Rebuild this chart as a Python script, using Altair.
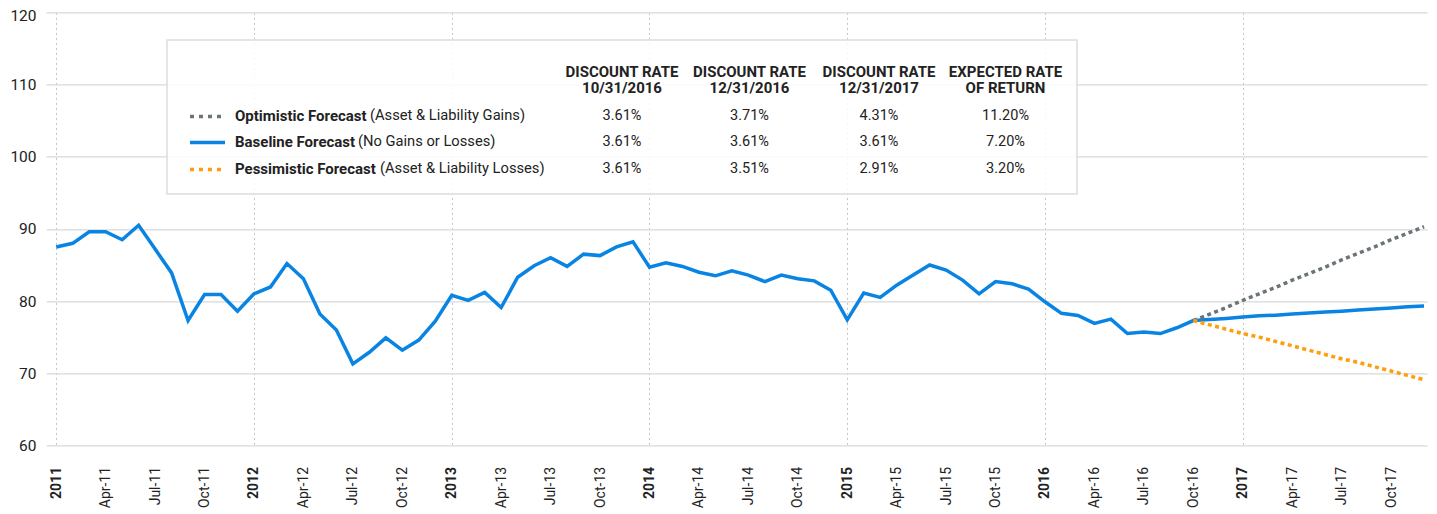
import json
import pandas as pd
import altair as alt

# ---------------- data ----------------
# monthly index values, Jan-2011 .. Oct-2016
history = [87.5, 88.0, 89.6, 89.6, 88.5, 90.5, 87.2, 83.9, 77.3, 80.9, 80.9, 78.6,
           81.0, 81.95, 85.2, 83.1, 78.2, 76.0, 71.3, 72.9, 74.9, 73.2, 74.6, 77.2,
           80.8, 80.1, 81.2, 79.1, 83.3, 84.9, 86.0, 84.8, 86.5, 86.3, 87.5, 88.2,
           84.7, 85.3, 84.8, 84.0, 83.5, 84.2, 83.6, 82.7, 83.6, 83.1, 82.8, 81.5,
           77.4, 81.1, 80.5, 82.2, 83.6, 85.0, 84.3, 82.9, 81.0, 82.7, 82.4, 81.65,
           79.9, 78.3, 78.0, 76.9, 77.5, 75.5, 75.7, 75.5, 76.3, 77.3]
# baseline forecast, Nov-2016 .. Dec-2017
baseline_fc = [77.45, 77.6, 77.8, 77.95, 78.05, 78.2, 78.35, 78.5, 78.6, 78.75,
               78.9, 79.05, 79.2, 79.3]
# dotted forecasts, Oct-2016 .. Dec-2017
optimistic_fc = [77.3, 78.2, 79.1, 80.1, 81.0, 81.9, 82.9, 83.8, 84.7, 85.7,
                 86.6, 87.5, 88.5, 89.4, 90.3]
pessimistic_fc = [77.3, 76.7, 76.1, 75.5, 75.0, 74.4, 73.8, 73.2, 72.6, 72.0,
                  71.5, 70.9, 70.3, 69.7, 69.1]

tick_labels = ["2011", "Apr-11", "Jul-11", "Oct-11", "2012", "Apr-12", "Jul-12", "Oct-12",
               "2013", "Apr-13", "Jul-13", "Oct-13", "2014", "Apr-14", "Jul-14", "Oct-14",
               "2015", "Apr-15", "Jul-15", "Oct-15", "2016", "Apr-16", "Jul-16", "Oct-16",
               "2017", "Apr-17", "Jul-17", "Oct-17"]
y_ticks = [60, 70, 80, 90, 100, 110, 120]

scenarios = ["Optimistic Forecast", "Baseline Forecast", "Pessimistic Forecast"]
notes = ["(Asset & Liability Gains)", "(No Gains or Losses)", "(Asset & Liability Losses)"]
headers_top = ["DISCOUNT RATE", "DISCOUNT RATE", "DISCOUNT RATE", "EXPECTED RATE"]
headers_bottom = ["10/31/2016", "12/31/2016", "12/31/2017", "OF RETURN"]
rates = [["3.61%", "3.71%", "4.31%", "11.20%"],
         ["3.61%", "3.61%", "3.61%", "7.20%"],
         ["3.61%", "3.51%", "2.91%", "3.20%"]]

# ---------------- styles ----------------
FONT = "Roboto"
BLUE = "#0a84e3"
GRAY = "#6b7479"
ORANGE = "#ff9d0a"
TXT = "#222222"

W, H = 1381, 433
n_hist = len(history)
start_fc = n_hist - 1

base_vals = history + baseline_fc
base_df = pd.DataFrame({"m": list(range(len(base_vals))), "v": base_vals})
opt_df = pd.DataFrame({"m": list(range(start_fc, start_fc + len(optimistic_fc))), "v": optimistic_fc})
pes_df = pd.DataFrame({"m": list(range(start_fc, start_fc + len(pessimistic_fc))), "v": pessimistic_fc})

XS = alt.Scale(domain=[-0.62, 83.18], nice=False, zero=False)
YS = alt.Scale(domain=[60, 120], nice=False, zero=False)

year_test = "datum.value % 12 === 0"
x_axis = alt.Axis(
    values=list(range(0, 84, 3)),
    labelExpr=json.dumps(tick_labels) + "[round(datum.value / 3)]",
    labelAngle=270, labelAlign="right", labelBaseline="middle",
    labelFontSize=14, labelFont=FONT, labelColor=TXT,
    labelFontWeight={"condition": {"test": year_test, "value": "bold"}, "value": "normal"},
    labelPadding=21, ticks=False, domain=False, title=None,
    grid=True, gridColor="#c4c4c4", gridDash=[2, 3], gridWidth=1,
    gridOpacity={"condition": {"test": year_test, "value": 1}, "value": 0},
    labelOverlap=False, labelBound=False, labelFlush=False,
)
y_axis = alt.Axis(
    values=y_ticks, labelFontSize=15.5, labelFont=FONT, labelColor=TXT,
    labelPadding=10, ticks=False, domain=False, title=None,
    labelOffset={"condition": {"test": "datum.value === 120", "value": 3}, "value": 0},
    grid=True, gridColor="#d9d9d9", gridWidth=1.3,
)

base_line = alt.Chart(base_df).mark_line(color=BLUE, strokeWidth=3.5).encode(
    x=alt.X("m:Q", scale=XS, axis=x_axis),
    y=alt.Y("v:Q", scale=YS, axis=y_axis),
)
opt_line = alt.Chart(opt_df).mark_line(color=GRAY, strokeWidth=3.5, strokeDash=[4, 3.5]).encode(
    x=alt.X("m:Q", scale=XS, axis=None),
    y=alt.Y("v:Q", scale=YS, axis=None),
)
pes_line = alt.Chart(pes_df).mark_line(color=ORANGE, strokeWidth=3.5, strokeDash=[4, 3.5]).encode(
    x=alt.X("m:Q", scale=XS, axis=None),
    y=alt.Y("v:Q", scale=YS, axis=None),
)

# ---------------- legend table ----------------
ROWS = alt.Scale(domain=[-2, -1, 0, 1, 2], range=[59.5, 75.5, 104, 130, 157], nice=False, zero=False)
COLS = alt.Scale(domain=[0, 1, 2, 3], range=[576, 703.5, 833, 959.5], nice=False, zero=False)

box = alt.Chart(pd.DataFrame({"k": [0]})).mark_rect(
    fill="white", fillOpacity=0.85, stroke="#dddddd", strokeWidth=1.5
).encode(x=alt.value(121), x2=alt.value(1031), y=alt.value(27.6), y2=alt.value(181.6))

hdr_rows = []
for c, (t, b) in enumerate(zip(headers_top, headers_bottom)):
    hdr_rows.append({"col": c, "row": -2, "t": t})
    hdr_rows.append({"col": c, "row": -1, "t": b})
headers = alt.Chart(pd.DataFrame(hdr_rows)).mark_text(
    font=FONT, fontSize=15, fontWeight="bold", color=TXT, align="center", baseline="middle"
).encode(
    x=alt.X("col:Q", scale=COLS, axis=None),
    y=alt.Y("row:Q", scale=ROWS, axis=None),
    text="t:N",
)

val_rows = [{"col": c, "row": r, "t": rates[r][c]} for r in range(3) for c in range(4)]
values = alt.Chart(pd.DataFrame(val_rows)).mark_text(
    font=FONT, fontSize=14.5, color=TXT, align="center", baseline="middle"
).encode(
    x=alt.X("col:Q", scale=COLS, axis=None),
    y=alt.Y("row:Q", scale=ROWS, axis=None),
    text="t:N",
)

leg_df = pd.DataFrame({"row": [0, 1, 2], "s": scenarios, "n": notes})
labels = alt.Chart(leg_df).mark_text(
    font=FONT, fontSize=15, fontWeight="bold", color=TXT, align="left", baseline="middle"
).encode(
    x=alt.value(189),
    y=alt.Y("row:Q", scale=ROWS, axis=None),
    text="s:N",
)
note_txt = alt.Chart(leg_df).mark_text(
    font=FONT, fontSize=14.7, color=TXT, align="left", baseline="middle"
).encode(
    x=alt.X("row:Q", scale=alt.Scale(domain=[0, 1, 2], range=[324, 312, 334], nice=False, zero=False), axis=None),
    y=alt.Y("row:Q", scale=ROWS, axis=None),
    text="n:N",
)
symbols = alt.Chart(leg_df).mark_rule(strokeWidth=3.5).encode(
    x=alt.value(144), x2=alt.value(179),
    y=alt.Y("row:Q", scale=ROWS, axis=None),
    color=alt.Color("s:N", scale=alt.Scale(domain=scenarios, range=[GRAY, BLUE, ORANGE]), legend=None),
    strokeDash=alt.StrokeDash("s:N", scale=alt.Scale(domain=scenarios, range=[[4, 5], [1, 0], [4, 5]]), legend=None),
)

chart = alt.layer(
    base_line, box, symbols, labels, note_txt, headers, values, opt_line, pes_line
).resolve_scale(
    x="independent", y="independent", color="independent", strokeDash="independent"
).properties(
    width=W, height=H,
    padding={"left": 38, "top": 4.4, "right": 2, "bottom": 66},
    autosize=alt.AutoSizeParams(type="none"),
    background="white",
).configure_view(stroke=None)

chart.save("out.html", embed_options={"renderer": "svg", "actions": False})
